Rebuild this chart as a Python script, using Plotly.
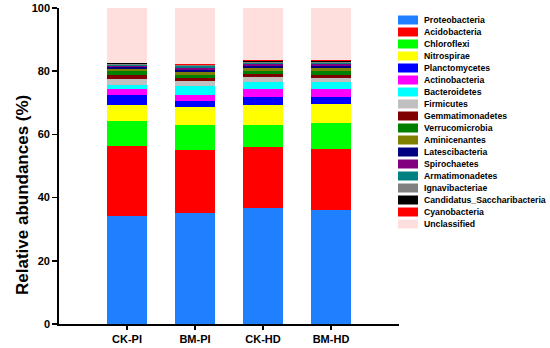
import plotly.graph_objects as go

categories = ["CK-PI", "BM-PI", "CK-HD", "BM-HD"]

phyla = [
    "Proteobacteria", "Acidobacteria", "Chloroflexi", "Nitrospirae",
    "Planctomycetes", "Actinobacteria", "Bacteroidetes", "Firmicutes",
    "Gemmatimonadetes", "Verrucomicrobia", "Aminicenantes", "Latescibacteria",
    "Spirochaetes", "Armatimonadetes", "Ignavibacteriae",
    "Candidatus_Saccharibacteria", "Cyanobacteria", "Unclassified",
]

colors = [
    "#1E80FF", "#FF0000", "#00FF00", "#FFFF00",
    "#0000FF", "#FF00FF", "#00FFFF", "#C0C0C0",
    "#800000", "#008000", "#808000", "#000080",
    "#800080", "#008080", "#808080",
    "#000000", "#FF0000", "#FFDEDE",
]

# values per phylum for CK-PI, BM-PI, CK-HD, BM-HD (%)
Proteobacteria = [34.3, 35.2, 36.6, 36.1]
Acidobacteria = [22.0, 20.0, 19.5, 19.4]
Chloroflexi = [7.9, 7.9, 7.0, 8.0]
Nitrospirae = [5.0, 5.7, 6.3, 6.0]
Planctomycetes = [3.3, 1.8, 2.5, 2.2]
Actinobacteria = [1.9, 1.8, 2.4, 2.6]
Bacteroidetes = [1.3, 2.8, 2.2, 2.2]
Firmicutes = [1.9, 1.6, 1.6, 1.4]
Gemmatimonadetes = [1.3, 0.9, 0.9, 1.0]
Verrucomicrobia = [1.2, 1.2, 1.2, 1.3]
Aminicenantes = [0.6, 0.8, 0.8, 0.8]
Latescibacteria = [0.6, 0.8, 0.7, 0.8]
Spirochaetes = [0.4, 0.5, 0.5, 0.4]
Armatimonadetes = [0.4, 0.5, 0.4, 0.4]
Ignavibacteriae = [0.3, 0.4, 0.3, 0.3]
Candidatus_Saccharibacteria = [0.2, 0.2, 0.2, 0.2]
Cyanobacteria = [0.1, 0.2, 0.5, 0.3]
Unclassified = [17.4, 17.7, 16.4, 16.6]

values = [
    Proteobacteria, Acidobacteria, Chloroflexi, Nitrospirae,
    Planctomycetes, Actinobacteria, Bacteroidetes, Firmicutes,
    Gemmatimonadetes, Verrucomicrobia, Aminicenantes, Latescibacteria,
    Spirochaetes, Armatimonadetes, Ignavibacteriae,
    Candidatus_Saccharibacteria, Cyanobacteria, Unclassified,
]

y_ticks = [0, 20, 40, 60, 80, 100]

FONT = "Liberation Sans, Arial, sans-serif"
W, H = 550, 348
L, R, T, B = 59, 151, 8, 24
PW, PH = W - L - R, H - T - B

fig = go.Figure()
for name, col, vals in zip(phyla, colors, values):
    fig.add_trace(go.Bar(
        x=categories, y=vals, name=name,
        marker=dict(color=col, line=dict(width=0)),
        width=0.6, showlegend=False,
    ))

def px_x(p):
    return (p - L) / PW

def px_y(p):
    return 1 - (p - T) / PH

shapes = []
annotations = []
for i, (name, col) in enumerate(zip(phyla, colors)):
    yc = 20 + 12 * i
    shapes.append(dict(
        type="rect", xref="paper", yref="paper",
        x0=px_x(398), x1=px_x(418), y0=px_y(yc + 4.5), y1=px_y(yc - 4.5),
        fillcolor=col, line=dict(width=0), layer="above",
    ))
    annotations.append(dict(
        x=px_x(422), y=px_y(yc), xref="paper", yref="paper",
        text="<b>%s</b>" % name, showarrow=False,
        xanchor="left", yanchor="middle",
        font=dict(family=FONT, size=8.7, color="#000000"),
    ))

annotations.append(dict(
    x=px_x(22), y=px_y(195), xref="paper", yref="paper",
    text="<b>Relative abundances (%)</b>", showarrow=False,
    textangle=-90, xanchor="center", yanchor="middle",
    font=dict(family=FONT, size=17, color="#000000"),
))

fig.update_layout(
    width=W, height=H,
    margin=dict(l=L, r=R, t=T, b=B, pad=0, autoexpand=False),
    barmode="stack",
    plot_bgcolor="white", paper_bgcolor="white",
    font=dict(family=FONT, color="#000000"),
    shapes=shapes, annotations=annotations,
    xaxis=dict(
        range=[-1, 4], showline=True, linecolor="black", linewidth=1.8,
        ticks="outside", ticklen=4, tickwidth=1.2, tickcolor="black",
        tickfont=dict(family=FONT, size=11, color="black", weight="bold"),
        showgrid=False, zeroline=False, fixedrange=True, automargin=False,
    ),
    yaxis=dict(
        range=[0, 100], tickvals=y_ticks, showline=True, linecolor="black",
        linewidth=1.8, ticks="outside", ticklen=5, tickwidth=1.5,
        tickcolor="black",
        tickfont=dict(family=FONT, size=11, color="black", weight="bold"),
        showgrid=False, zeroline=False, fixedrange=True, automargin=False,
    ),
)

fig.write_html(
    "out.html",
    config={"displayModeBar": False, "staticPlot": True},
    post_script="document.body.style.margin='0px';document.body.style.overflow='hidden';",
)
